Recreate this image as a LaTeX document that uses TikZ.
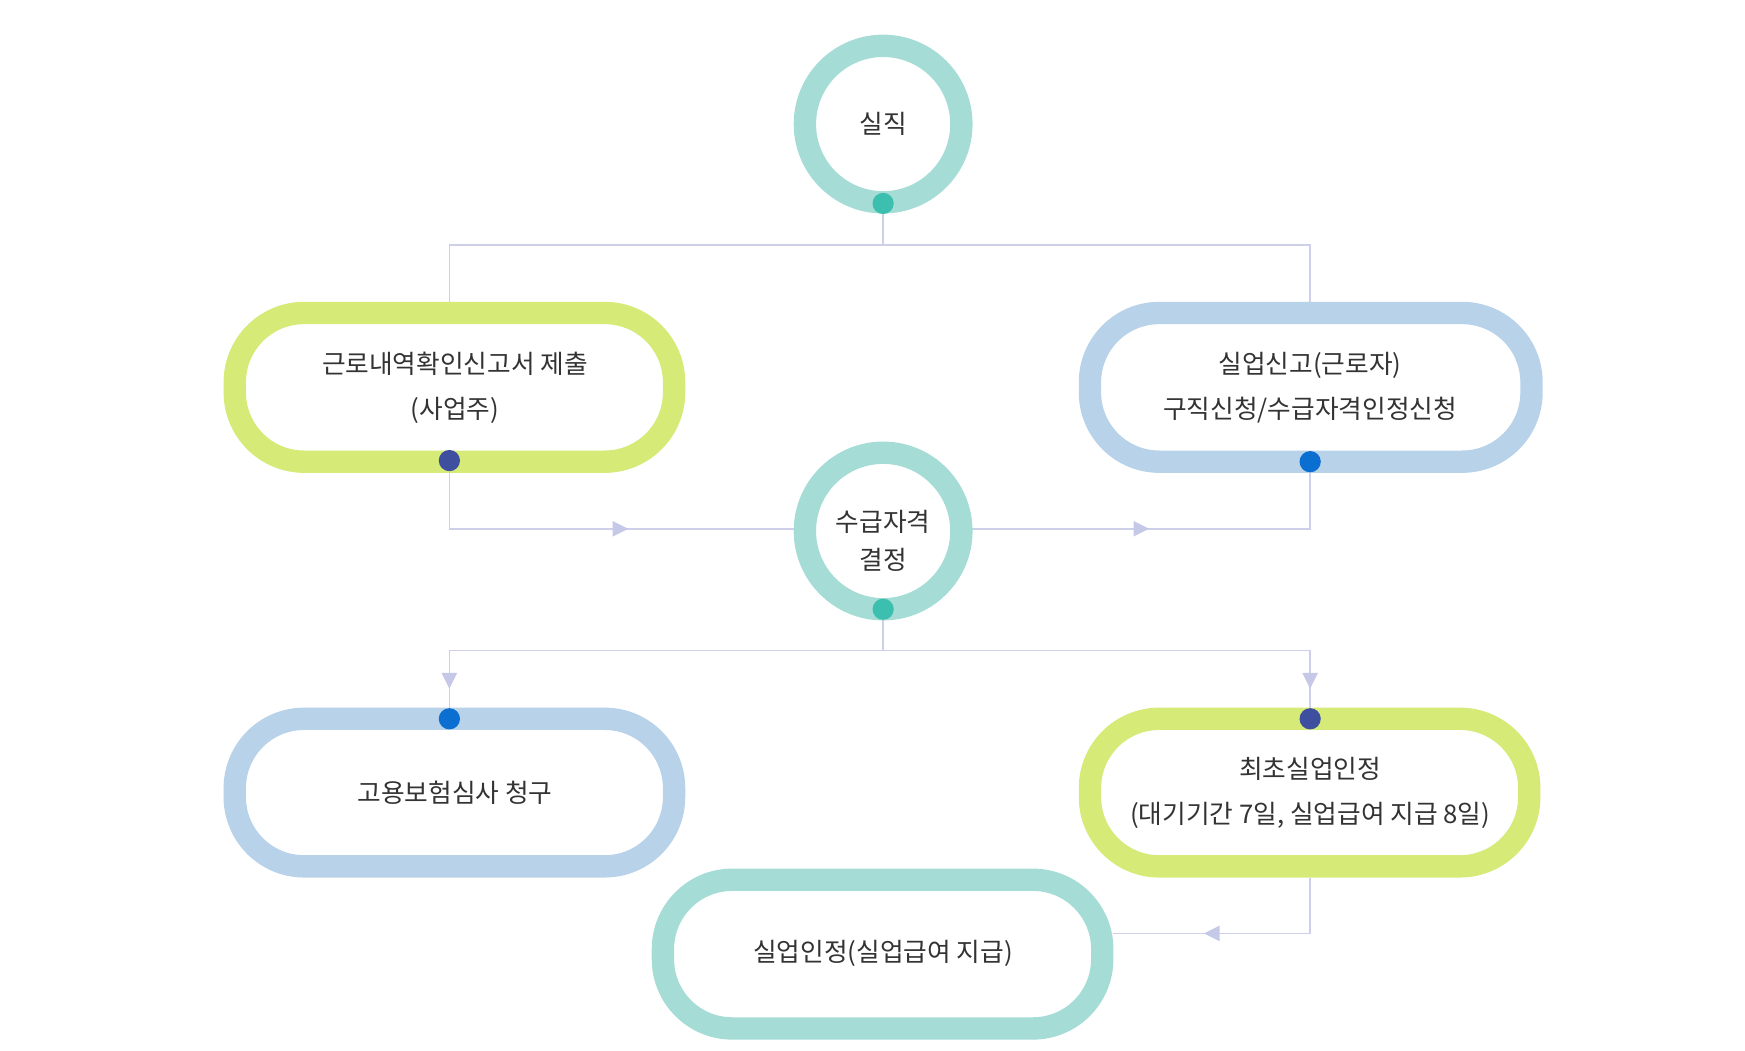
\documentclass[tikz,border=0pt]{standalone}
\usepackage{fontspec}
\setmainfont{Noto Sans CJK KR}
\begin{document}
\begin{tikzpicture}[x=0.5pt,y=-0.5pt,
  ring/.style={line width=10pt},
  conn/.style={draw=lineC,line width=0.7pt},
  dotn/.style={circle,inner sep=0pt,minimum size=9.5pt},
  tri/.style={fill=triC},
  lbl/.style={font=\fontsize{11.5}{20}\selectfont,text=txtC,align=center}]
\definecolor{tealR}{HTML}{A5DDD6}
\definecolor{limeR}{HTML}{D6EA78}
\definecolor{blueR}{HTML}{B8D2EA}
\definecolor{tealD}{HTML}{3CBFAE}
\definecolor{navyD}{HTML}{3E4FA0}
\definecolor{blueD}{HTML}{0A6FD0}
\definecolor{lineC}{HTML}{CDD0E8}
\definecolor{triC}{HTML}{C5C8E6}
\definecolor{txtC}{HTML}{333333}
\useasboundingbox (0,0) rectangle (1561,940);
% connectors first
\coordinate (t1) at (790,219);
\draw[conn] (790,182) -- (790,219) (402,272) |- (1172,219) -- (1172,272);
\draw[conn] (402,412) |- (790,473) -| (1172,413);
\draw[conn] (790,545) -- (790,582) (402,643) |- (1172,582) -- (1172,643);
\draw[conn] (1172,785) |- (996,835);
% arrow triangles
\fill[tri] (548,466) -- (562,473) -- (548,480) -- cycle;
\fill[tri] (1014,466) -- (1028,473) -- (1014,480) -- cycle;
\fill[tri] (395,602) -- (409,602) -- (402,616) -- cycle;
\fill[tri] (1165,602) -- (1179,602) -- (1172,616) -- cycle;
\fill[tri] (1091,828) -- (1091,842) -- (1077,835) -- cycle;
% circles
\draw[ring,draw=tealR,fill=white] (790,111) circle (70);
\node[lbl] (a) at (790,111) {실직};
\draw[ring,draw=tealR,fill=white] (790,475) circle (70);
\node[lbl] (d) at (790,484) {수급자격\\[-3pt]결정};
% stadiums
\draw[ring,draw=limeR,fill=white,rounded corners=62pt*0+31pt] (210,280) rectangle (603,413);
\node[lbl] (b) at (407,347) {근로내역확인신고서 제출\\(사업주)};
\draw[ring,draw=blueR,fill=white,rounded corners=31pt] (975,280) rectangle (1370,413);
\node[lbl] (c) at (1172,347) {실업신고(근로자)\\구직신청/수급자격인정신청};
\draw[ring,draw=blueR,fill=white,rounded corners=31pt] (210,643) rectangle (603,775);
\node[lbl] (e) at (407,709) {고용보험심사 청구};
\draw[ring,draw=limeR,fill=white,rounded corners=31pt] (975,643) rectangle (1368,775);
\node[lbl] (f) at (1172,709) {최초실업인정\\(대기기간 7일, 실업급여 지급 8일)};
\draw[ring,draw=tealR,fill=white,rounded corners=31pt] (593,787) rectangle (986,920);
\node[lbl] (g) at (790,853) {실업인정(실업급여 지급)};
% dots
\node[dotn,fill=tealD] (da) at (790,182) {};
\node[dotn,fill=tealD] (dd) at (790,545) {};
\node[dotn,fill=navyD] (db) at (402,412) {};
\node[dotn,fill=blueD] (dc) at (1172,413) {};
\node[dotn,fill=blueD] (de) at (402,643) {};
\node[dotn,fill=navyD] (df) at (1172,643) {};
\end{tikzpicture}
\end{document}
